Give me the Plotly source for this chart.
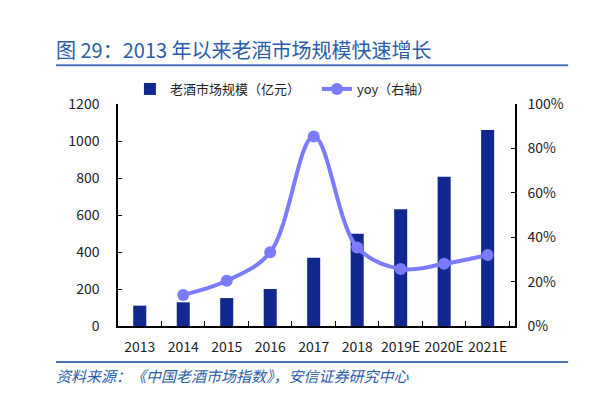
import plotly.graph_objects as go

# Data
years = ['2013', '2014', '2015', '2016', '2017', '2018', '2019E', '2020E', '2021E']
market_size = [110, 128, 151, 200, 369, 499, 631, 807, 1059]   # 亿元
yoy_years = years[1:]
yoy = [0.14, 0.204, 0.332, 0.854, 0.354, 0.257, 0.28, 0.32]

BAR_COLOR = '#10288F'
LINE_COLOR = '#7B7BFF'
TITLE_COLOR = '#2B5CA8'
FONT = 'Noto Sans CJK SC'

fig = go.Figure()

fig.add_trace(go.Bar(
    x=years, y=market_size,
    name='老酒市场规模（亿元）',
    marker=dict(color=BAR_COLOR, line=dict(width=0)),
    width=0.3,
))

fig.add_trace(go.Scatter(
    x=yoy_years, y=yoy,
    name='yoy（右轴）',
    mode='lines+markers',
    line=dict(color=LINE_COLOR, width=4, shape='spline', smoothing=1.0),
    marker=dict(color=LINE_COLOR, size=12),
    yaxis='y2',
))

# page body has an 8px default margin, so the figure is a bit smaller
fig.update_layout(
    width=591, height=407,
    margin=dict(l=110, r=84, t=96, b=89, autoexpand=False),
    plot_bgcolor='white',
    paper_bgcolor='white',
    font=dict(family=FONT, size=14, color='#222222'),
    showlegend=True,
    legend=dict(
        orientation='h',
        x=0.03, xanchor='left',
        y=1.0, yanchor='bottom',
        entrywidth=142,
        font=dict(size=13, color='#222222'),
        bgcolor='rgba(0,0,0,0)',
    ),
    bargap=0.7,
    xaxis=dict(
        type='category',
        showline=True, linecolor='black', linewidth=1.5,
        ticks='inside', tickson='boundaries', ticklen=5, tickcolor='black',
        showgrid=False,
        tickfont=dict(size=14),
        tickangle=0,
        automargin=False,
        ticklabelstandoff=7,
    ),
    yaxis=dict(
        range=[0, 1200], dtick=200,
        showline=True, linecolor='black', linewidth=1.5,
        ticks='inside', ticklen=4, tickcolor='black',
        showgrid=False, zeroline=False,
        tickfont=dict(size=14),
        automargin=False,
        ticklabelstandoff=14,
    ),
    yaxis2=dict(
        range=[0, 1.0], dtick=0.2, tickformat='.0%',
        overlaying='y', side='right',
        showline=True, linecolor='black', linewidth=1.5,
        ticks='inside', ticklen=4, tickcolor='black',
        showgrid=False, zeroline=False,
        tickfont=dict(size=14),
        automargin=False,
        ticklabelstandoff=8,
    ),
)

# Title, separator rules and source note
fig.add_annotation(
    xref='paper', yref='paper', x=-0.16, y=1.245,
    xanchor='left', yanchor='middle', showarrow=False,
    text='图 29：2013 年以来老酒市场规模快速增长',
    font=dict(family=FONT, size=20, color=TITLE_COLOR),
)
fig.add_shape(type='line', xref='paper', yref='paper',
              x0=-0.156, x1=1.134, y0=1.175, y1=1.175,
              line=dict(color='#4A72B8', width=2))
fig.add_shape(type='line', xref='paper', yref='paper',
              x0=-0.156, x1=1.134, y0=-0.162, y1=-0.162,
              line=dict(color='#4A72B8', width=2))
fig.add_annotation(
    xref='paper', yref='paper', x=-0.16, y=-0.222,
    xanchor='left', yanchor='middle', showarrow=False,
    text='<i>资料来源：《中国老酒市场指数》，安信证券研究中心</i>',
    font=dict(family=FONT, size=15, color=TITLE_COLOR),
)

fig.write_html('out.html')
